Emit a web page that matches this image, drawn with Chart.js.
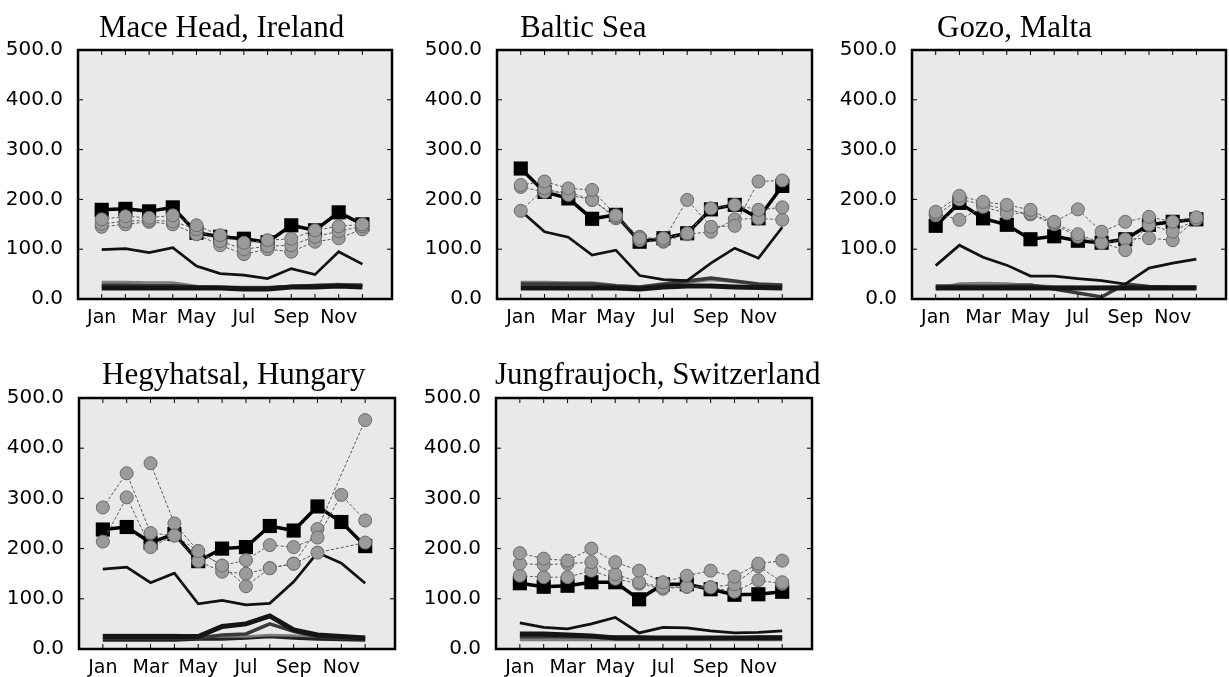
<!DOCTYPE html>
<html>
<head>
<meta charset="utf-8">
<script src="https://cdn.jsdelivr.net/npm/chart.js@4.4.0/dist/chart.umd.min.js"></script>
<style>
  html, body { margin: 0; padding: 0; background: #fff; overflow: hidden; width: 1229px; height: 677px; }
  canvas { position: absolute; }
</style>
</head>
<body>
<script>
// Meses y ticks
const months = ['Jan', 'Feb', 'Mar', 'Apr', 'May', 'Jun', 'Jul', 'Aug', 'Sep', 'Oct', 'Nov', 'Dec'];
const yTicks = [0, 100, 200, 300, 400, 500];

// Mace Head, Ireland
const maceObs   = [179, 181, 176, 184, 133, 125, 121, 114, 148, 138, 174, 150];
const maceModA  = [160, 166, 163, 168, 148, 128, 113, 118, 121, 138, 146, 150];
const maceModB  = [151, 156, 158, 156, 140, 116, 100, 106, 108, 125, 136, 146];
const maceModC  = [145, 150, 155, 150, 130, 108, 90, 100, 95, 115, 122, 140];
const maceThin  = [99, 101, 93, 103, 66, 51, 48, 41, 61, 49, 95, 70];
const maceLow1  = [22, 22, 22, 22, 22, 22, 20, 20, 24, 24, 26, 24];
const maceLow2  = [28, 28, 27, 27, 24, 23, 22, 22, 25, 27, 28, 28];
const maceLow3  = [34, 34, 33, 33, 26, 25, 24, 24, 26, 28, 30, 27];

// Baltic Sea
const balticObs  = [262, 215, 202, 161, 169, 115, 122, 132, 180, 189, 162, 227];
const balticModA = [229, 236, 222, 219, 168, 122, 122, 132, 182, 189, 179, 184];
const balticModB = [177, 222, 209, 199, 165, 125, 118, 199, 145, 147, 236, 238];
const balticModC = [225, 215, 215, 199, 162, 118, 115, 130, 135, 160, 162, 159];
const balticThin = [177, 135, 124, 88, 98, 47, 39, 37, 72, 102, 82, 144];
const balticLow1 = [22, 22, 22, 22, 22, 20, 24, 26, 26, 24, 23, 22];
const balticLow2 = [30, 30, 30, 30, 26, 24, 30, 36, 42, 36, 30, 28];
const balticLow3 = [34, 34, 33, 33, 28, 25, 28, 33, 38, 34, 30, 27];

// Gozo, Malta
const gozoObs  = [147, 193, 162, 149, 120, 126, 117, 113, 120, 149, 155, 160];
const gozoModA = [175, 207, 195, 189, 179, 155, 180, 135, 155, 165, 155, 164];
const gozoModB = [172, 159, 185, 172, 172, 153, 130, 113, 98, 149, 135, 160];
const gozoModC = [168, 200, 190, 180, 170, 150, 125, 112, 120, 122, 118, 162];
const gozoThin = [67, 108, 84, 68, 46, 46, 41, 37, 30, 62, 72, 80];
const gozoLow1 = [22, 22, 22, 22, 22, 22, 22, 22, 22, 22, 22, 22];
const gozoLow2 = [26, 26, 26, 26, 28, 20, 12, 4, 30, 25, 24, 24];
const gozoLow3 = [20, 31, 32, 31, 28, 25, 24, 24, 25, 24, 23, 22];

// Hegyhatsal, Hungary (null = sin circulo visible)
const hegyObs  = [238, 243, 212, 229, 175, 200, 203, 245, 236, 284, 253, 205];
const hegyModA = [282, 350, 231, 226, 195, 166, 177, 207, 203, 222, 307, 256];
const hegyModB = [214, 302, 203, 226, 175, 154, 150, 161, 170, 239, null, 456];
const hegyModC = [null, null, 370, 250, 195, 166, 125, 161, 170, 192, null, 212];
const hegyThin = [159, 163, 132, 151, 90, 97, 88, 91, 134, 192, 171, 131];
const hegyLow1 = [25, 25, 25, 25, 25, 45, 50, 66, 38, 28, 25, 22];
const hegyLow2 = [22, 22, 22, 22, 22, 28, 30, 50, 35, 25, 22, 20];
const hegyLow3 = [28, 28, 28, 28, 26, 25, 25, 28, 27, 25, 24, 24];
const hegyLow4 = [18, 18, 18, 18, 20, 20, 22, 25, 22, 20, 19, 18];

// Jungfraujoch, Switzerland
const jungObs  = [131, 124, 126, 133, 133, 99, 129, 129, 119, 108, 109, 114];
const jungModA = [191, 180, 176, 200, 173, 156, 133, 146, 156, 144, 170, 176];
const jungModB = [170, 168, 170, 173, 149, 133, 123, 124, 123, 129, 165, 133];
const jungModC = [146, 143, 143, 156, 140, 130, 120, 124, 123, 114, 137, 130];
const jungThin = [52, 43, 40, 50, 63, 32, 43, 42, 36, 32, 33, 36];
const jungLow1 = [30, 30, 28, 26, 22, 22, 22, 22, 22, 22, 22, 22];
const jungLow2 = [24, 24, 24, 24, 24, 24, 22, 22, 22, 22, 24, 24];
const jungLow3 = [18, 18, 18, 18, 18, 18, 18, 18, 18, 18, 18, 18];

// Paneles: posicion del area de trazado en la pagina
const panels = [
  { title: 'Mace Head, Ireland', obs: maceObs, models: [maceModA, maceModB, maceModC], thin: maceThin,
    low: [maceLow1, maceLow2, maceLow3], left: 78, top: 50, w: 320, h: 249, titleX: 99, titleY: 37 },
  { title: 'Baltic Sea', obs: balticObs, models: [balticModA, balticModB, balticModC], thin: balticThin,
    low: [balticLow1, balticLow2, balticLow3], left: 497, top: 50, w: 321, h: 249, titleX: 520, titleY: 37 },
  { title: 'Gozo, Malta', obs: gozoObs, models: [gozoModA, gozoModB, gozoModC], thin: gozoThin,
    low: [gozoLow1, gozoLow2, gozoLow3], left: 912, top: 50, w: 320, h: 249, titleX: 937, titleY: 37 },
  { title: 'Hegyhatsal, Hungary', obs: hegyObs, models: [hegyModA, hegyModB, hegyModC], thin: hegyThin,
    low: [hegyLow1, hegyLow2, hegyLow3, hegyLow4], left: 79, top: 398, w: 322, h: 251, titleX: 102, titleY: 384 },
  { title: 'Jungfraujoch, Switzerland', obs: jungObs, models: [jungModA, jungModB, jungModC], thin: jungThin,
    low: [jungLow1, jungLow2, jungLow3], left: 496, top: 398, w: 322, h: 251, titleX: 495, titleY: 384 }
];

const lowStyles = [
  { color: '#151515', width: 5 },
  { color: '#3a3a3a', width: 3.5 },
  { color: '#7e7e7e', width: 2.5 },
  { color: '#222', width: 3.5 }
];

const PAD_LEFT = 78, PAD_TOP = 50, PAD_BOTTOM = 34, PAD_RIGHT = 4;

const toPoints = arr => arr.map((v, i) => ({ x: i + 1, y: v }));

// fondo, marco, marcas internas y titulo
const framePlugin = {
  id: 'frame',
  beforeDatasetsDraw(chart) {
    const a = chart.chartArea, ctx = chart.ctx;
    ctx.save();
    ctx.fillStyle = '#e9e9e9';
    ctx.fillRect(a.left, a.top, a.right - a.left, a.bottom - a.top);
    ctx.restore();
  },
  afterDraw(chart, args, opts) {
    const a = chart.chartArea, ctx = chart.ctx;
    const xs = chart.scales.x, ys = chart.scales.y;
    ctx.save();
    ctx.strokeStyle = '#000';
    ctx.lineWidth = 1;
    ctx.beginPath();
    months.forEach((m, i) => {
      const px = xs.getPixelForValue(i + 1);
      ctx.moveTo(px, a.top); ctx.lineTo(px, a.top + 5);
      ctx.moveTo(px, a.bottom); ctx.lineTo(px, a.bottom - 5);
    });
    yTicks.forEach(v => {
      const py = ys.getPixelForValue(v);
      ctx.moveTo(a.left, py); ctx.lineTo(a.left + 5, py);
      ctx.moveTo(a.right, py); ctx.lineTo(a.right - 5, py);
    });
    ctx.stroke();
    ctx.lineWidth = 2.5;
    ctx.strokeRect(a.left, a.top, a.right - a.left, a.bottom - a.top);
    ctx.fillStyle = '#000';
    ctx.font = '31px "Liberation Serif", "Times New Roman", serif';
    ctx.textBaseline = 'alphabetic';
    ctx.fillText(opts.text, opts.x, opts.y);
    ctx.restore();
  }
};

panels.forEach(p => {
  const canvas = document.createElement('canvas');
  const cw = p.w + PAD_LEFT + PAD_RIGHT;
  const ch = p.h + PAD_TOP + PAD_BOTTOM;
  const cLeft = p.left - PAD_LEFT;
  const cTop = p.top - PAD_TOP;
  canvas.width = cw;
  canvas.height = ch;
  canvas.style.left = cLeft + 'px';
  canvas.style.top = cTop + 'px';
  canvas.style.width = cw + 'px';
  canvas.style.height = ch + 'px';
  document.body.appendChild(canvas);

  const datasets = [];
  p.models.forEach(m => {
    datasets.push({
      data: toPoints(m),
      spanGaps: true,
      borderColor: '#5a5a5a',
      borderWidth: 1,
      borderDash: [3, 2],
      pointStyle: 'circle',
      pointRadius: 6.5,
      pointBackgroundColor: '#9b9b9b',
      pointBorderColor: '#6a6a6a',
      pointBorderWidth: 1
    });
  });
  datasets.push({
    data: toPoints(p.obs),
    borderColor: '#000',
    borderWidth: 3.5,
    pointStyle: 'rect',
    pointRadius: 10,
    pointBackgroundColor: '#000',
    pointBorderColor: '#000',
    pointBorderWidth: 0
  });
  datasets.push({
    data: toPoints(p.thin),
    borderColor: '#111',
    borderWidth: 2.7,
    pointRadius: 0
  });
  p.low.forEach((l, i) => {
    datasets.push({
      data: toPoints(l),
      borderColor: lowStyles[i].color,
      borderWidth: lowStyles[i].width,
      pointRadius: 0
    });
  });

  new Chart(canvas, {
    type: 'line',
    data: { datasets },
    plugins: [framePlugin],
    options: {
      responsive: false,
      animation: false,
      events: [],
      layout: { padding: { left: 0, top: PAD_TOP, right: PAD_RIGHT, bottom: 0 } },
      plugins: {
        legend: { display: false },
        tooltip: { enabled: false },
        frame: { text: p.title, x: p.titleX - cLeft, y: p.titleY - cTop }
      },
      scales: {
        x: {
          type: 'linear',
          min: 0,
          max: 13.25,
          grid: { display: false, drawTicks: false },
          border: { display: false },
          afterBuildTicks: s => { s.ticks = months.map((m, i) => ({ value: i + 1 })); },
          afterFit: s => { s.height = PAD_BOTTOM; },
          ticks: {
            autoSkip: false,
            maxRotation: 0,
            padding: 8,
            color: '#000',
            font: { family: '"DejaVu Sans", sans-serif', size: 19 },
            callback: v => (v % 2 === 1 ? months[v - 1] : '')
          }
        },
        y: {
          min: 0,
          max: 500,
          grid: { display: false, drawTicks: false },
          border: { display: false },
          afterBuildTicks: s => { s.ticks = yTicks.map(v => ({ value: v })); },
          afterFit: s => { s.width = PAD_LEFT; },
          ticks: {
            padding: 15,
            color: '#000',
            font: { family: '"DejaVu Sans", sans-serif', size: 20 },
            callback: v => v.toFixed(1)
          }
        }
      }
    }
  });
});
</script>
</body>
</html>
